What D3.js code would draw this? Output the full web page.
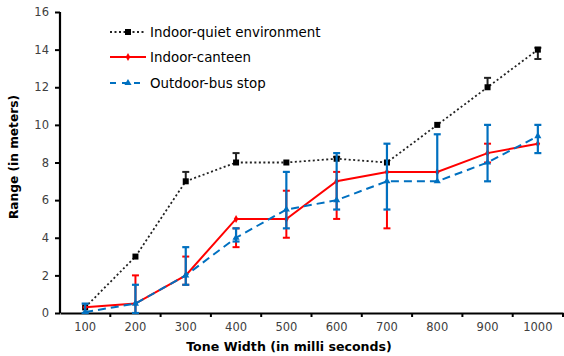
<!DOCTYPE html>
<html><head><meta charset="utf-8">
<script src="https://cdn.jsdelivr.net/npm/d3@7"></script>
<style>body{margin:0;background:#fff}svg{display:block}</style>
</head><body>
<svg id="c" width="564" height="356"></svg>
<script>
const categories = ["100","200","300","400","500","600","700","800","900","1000"];
const yTicks = [0,2,4,6,8,10,12,14,16];

const quietVals = [0.3, 3.0, 7.0, 8.0, 8.0, 8.2, 8.0, 10.0, 12.0, 14.0];
const quietLow  = [0.3, 3.0, 7.0, 8.0, 8.0, 8.2, 8.0, 10.0, 12.0, 13.5];
const quietHigh = [0.3, 3.0, 7.5, 8.5, 8.0, 8.3, 8.0, 10.0, 12.5, 14.1];

const canteenVals = [0.3, 0.5, 2.0, 5.0, 5.0, 7.0, 7.5, 7.5, 8.5, 9.0];
const canteenLow  = [0.3, 0.0, 1.5, 3.5, 4.0, 5.0, 4.5, 7.5, 8.0, 9.0];
const canteenHigh = [0.3, 2.0, 3.0, 4.5, 6.5, 7.5, 7.5, 7.5, 9.0, 9.0];

const busVals = [0.05, 0.5, 2.0, 4.0, 5.5, 6.0, 7.0, 7.0, 8.0, 9.4];
const busLow  = [0.0, 0.0, 1.5, 3.8, 4.5, 5.5, 5.5, 7.0, 7.0, 8.5];
const busHigh = [0.5, 1.5, 3.5, 4.5, 7.5, 8.5, 9.0, 9.5, 10.0, 10.0];

const seriesNames = ["Indoor-quiet environment","Indoor-canteen","Outdoor-bus stop"];

const svg = d3.select("#c");
const m = {left:60, right:1, top:12, bottom:43};
const W = 564, H = 356;
const x = d3.scaleBand().domain(categories).range([m.left, W - m.right]);
const y = d3.scaleLinear().domain([0,16]).range([H - m.bottom, m.top]);
const font = "DejaVu Sans, Verdana, sans-serif";

// axes
const xAxis = svg.append("g").attr("transform",`translate(0,${y(0)})`)
  .call(d3.axisBottom(x).tickSize(0).tickPadding(10));
xAxis.select(".domain").attr("stroke","#000").attr("stroke-width",2.2);
xAxis.selectAll("text").attr("font-family",font).attr("font-size",11.5).attr("fill","#404040");
// boundary ticks
svg.append("g").selectAll("line").data(categories).join("line")
  .attr("x1",d=>x(d) + x.bandwidth())
  .attr("x2",d=>x(d) + x.bandwidth())
  .attr("y1",y(0)).attr("y2",y(0)+4).attr("stroke","#000").attr("stroke-width",2);

const yAxis = svg.append("g").attr("transform",`translate(${m.left},0)`)
  .call(d3.axisLeft(y).tickValues(yTicks).tickSize(5).tickPadding(6));
yAxis.select(".domain").attr("stroke","#000").attr("stroke-width",2.2).attr("d",`M0,${y(16)}V${y(0)}`);
yAxis.selectAll(".tick line").attr("stroke","#000").attr("stroke-width",2);
yAxis.selectAll("text").attr("font-family",font).attr("font-size",11.5).attr("fill","#404040");

// titles
svg.append("text").attr("x",289).attr("y",351)
  .attr("text-anchor","middle").attr("font-family",font).attr("font-weight","bold")
  .attr("font-size",12.6).attr("fill","#000").text("Tone Width (in milli seconds)");
svg.append("text").attr("transform","translate(18,157) rotate(-90)")
  .attr("text-anchor","middle").attr("font-family",font).attr("font-weight","bold")
  .attr("font-size",12.2).attr("fill","#000").text("Range (in meters)");

const cx = d => x(d) + x.bandwidth()/2;

function drawSeries(vals, lo, hi, color, dash, width, errW, marker) {
  const g = svg.append("g");
  categories.forEach((c,i) => {
    if (hi[i] - lo[i] < 0.05) return;
    const X = cx(c);
    g.append("line").attr("x1",X).attr("x2",X).attr("y1",y(lo[i])).attr("y2",y(hi[i]))
      .attr("stroke",color).attr("stroke-width",errW);
    [lo[i],hi[i]].forEach(v => {
      if (Math.abs(v - vals[i]) < 0.05) return;
      g.append("line").attr("x1",X-3.5).attr("x2",X+3.5).attr("y1",y(v)).attr("y2",y(v))
        .attr("stroke",color).attr("stroke-width",errW);
    });
  });
  const line = d3.line().x((d,i)=>cx(categories[i])).y(d=>y(d));
  g.append("path").datum(vals).attr("d",line).attr("fill","none")
    .attr("stroke",color).attr("stroke-width",width).attr("stroke-dasharray",dash);
  categories.forEach((c,i) => marker(g, cx(c), y(vals[i])));
}

const sq = (g,X,Y) => g.append("rect").attr("x",X-3).attr("y",Y-3).attr("width",6).attr("height",6).attr("fill","#000");
const dot = (g,X,Y) => g.append("path").attr("d",d3.symbol(d3.symbolDiamond,18)()).attr("transform",`translate(${X},${Y})`).attr("fill","#f00");
const tri = (g,X,Y) => g.append("path").attr("d",d3.symbol(d3.symbolTriangle,22)()).attr("transform",`translate(${X},${Y})`).attr("fill","#0070c0");

drawSeries(quietVals, quietLow, quietHigh, "#222", "2,2.5", 1.8, 2, sq);
drawSeries(canteenVals, canteenLow, canteenHigh, "#ff0000", null, 2, 2, dot);
drawSeries(busVals, busLow, busHigh, "#0070c0", "8,5", 2, 2.2, tri);

// legend
const legRows = [
  {name: seriesNames[0], color:"#222", dash:"2,2.5", w:1.8, mk:sq, y:32},
  {name: seriesNames[1], color:"#ff0000", dash:null, w:2, mk:dot, y:57},
  {name: seriesNames[2], color:"#0070c0", dash:"6,6", w:2, mk:tri, y:83}
];
const lg = svg.append("g");
legRows.forEach(r => {
  lg.append("line").attr("x1",110).attr("x2",146).attr("y1",r.y).attr("y2",r.y)
    .attr("stroke",r.color).attr("stroke-width",r.w).attr("stroke-dasharray",r.dash);
  r.mk(lg,128,r.y);
  lg.append("text").attr("x",150).attr("y",r.y).attr("dy","0.35em")
    .attr("font-family",font).attr("font-size",13.4).attr("fill","#000").text(r.name);
});
</script>
</body></html>
